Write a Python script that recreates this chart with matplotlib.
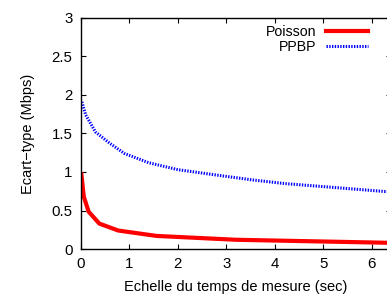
import numpy as np
import matplotlib.pyplot as plt

plt.rcParams['font.family'] = ['Liberation Sans', 'DejaVu Sans']

# values
poisson_x = [0.01, 0.06, 0.16, 0.38, 0.77, 1.56, 3.2, 6.4]
poisson_y = [0.97, 0.68, 0.485, 0.33, 0.24, 0.17, 0.12, 0.08]

ppbp_x = [0.02, 0.1, 0.3, 0.6, 0.9, 1.4, 2.0, 2.8, 3.5, 4.2, 5.0, 5.6, 6.4]
ppbp_y = [1.91, 1.74, 1.52, 1.37, 1.24, 1.12, 1.03, 0.96, 0.90, 0.85, 0.81, 0.78, 0.74]

xticks = [0, 1, 2, 3, 4, 5, 6]
yticks = [0, 0.5, 1, 1.5, 2, 2.5, 3]
yticklabels = ['0', '0.5', '1', '1.5', '2', '2.5', '3']

fig = plt.figure(figsize=(3.87, 2.94), dpi=100)
ax = fig.add_axes([0.209, 0.153, 0.802, 0.786])

ax.plot(poisson_x, poisson_y, color='#ff0000', lw=3, label='Poisson')
ax.plot(ppbp_x, ppbp_y, color='#0000ff', lw=2.2, linestyle=(0, (0.45, 0.45)), label='PPBP')

ax.set_xlim(0, 6.4)
ax.set_ylim(0, 3)
ax.set_xticks(xticks)
ax.set_yticks(yticks)
ax.set_yticklabels(yticklabels)
ax.tick_params(direction='in', length=3.5, width=0.8, top=True, right=True,
               labelsize=10.8, pad=6)
for s in ax.spines.values():
    s.set_linewidth(1.0)

ax.set_xlabel('Echelle du temps de mesure (sec)', fontsize=10.5, labelpad=6)
ax.set_ylabel('Ecart\u2212type (Mbps)', fontsize=10.5, labelpad=12)

ax.legend(loc='upper right', bbox_to_anchor=(0.958, 1.012), frameon=False,
          markerfirst=False, fontsize=10.2, handlelength=3.0, handletextpad=0.7,
          labelspacing=0.05, borderaxespad=0.3)

fig.savefig('out.png', dpi=100)
